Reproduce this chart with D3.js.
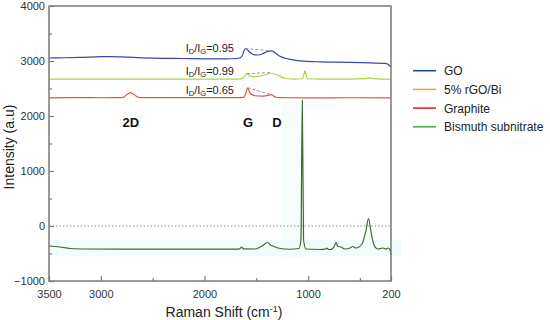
<!DOCTYPE html>
<html>
<head>
<meta charset="utf-8">
<script src="https://cdn.jsdelivr.net/npm/d3@7"></script>
<style>
  body { margin: 0; background: #fff; }
  svg { display: block; font-family: "Liberation Sans", Arial, sans-serif; }
</style>
</head>
<body>
<svg id="chart" width="550" height="320"></svg>
<script>
// legend
var seriesNames = ["GO", "5% rGO/Bi", "Graphite", "Bismuth subnitrate"];
var legendColors = ["#1f4e8c", "#f5a623", "#e8261f", "#4cae4f"];
// colours of the plotted traces (they differ from the legend in the source)
var lineColors = ["#3a46a6", "#a9d640", "#e8503c", "#3d6b2c"];

// [Raman shift, intensity]
var goData = [[3500,3055],[3400,3058],[3200,3065],[3000,3078],[2900,3080],[2750,3070],[2600,3058],[2400,3048],
  [2200,3045],[2000,3040],[1800,3040],[1680,3045],[1640,3080],[1620,3180],[1604,3227],[1585,3200],[1550,3140],
  [1510,3110],[1483,3109],[1440,3130],[1400,3165],[1358,3185],[1320,3150],[1271,3085],[1220,3050],[1175,3030],
  [1078,3004],[885,2985],[596,2976],[400,2965],[258,2958],[230,2940],[200,2886]];
var rgoData = [[3500,2670],[3000,2672],[2500,2670],[2000,2672],[1700,2670],[1640,2680],[1618,2705],[1590,2770],
  [1560,2722],[1520,2715],[1483,2722],[1420,2745],[1358,2777],[1290,2740],[1223,2686],[1126,2670],[1060,2677],
  [1045,2720],[1030,2822],[1015,2720],[1001,2677],[885,2670],[600,2672],[450,2680],[403,2695],[370,2680],
  [258,2670],[220,2668],[200,2650]];
var graphiteData = [[3500,2330],[3200,2335],[3000,2332],[2850,2335],[2786,2340],[2750,2385],[2712,2424],
  [2680,2390],[2650,2350],[2622,2335],[2400,2333],[2000,2333],[1700,2333],[1620,2340],[1600,2420],[1583,2514],
  [1565,2440],[1551,2400],[1512,2368],[1440,2360],[1390,2375],[1358,2387],[1310,2341],[1250,2333],[1000,2330],
  [600,2332],[200,2330]];
var bismuthData = [[3500,-364],[3394,-382],[3297,-409],[3124,-418],[2800,-422],[2400,-420],[2000,-420],
  [1700,-420],[1660,-415],[1641,-382],[1625,-415],[1512,-418],[1445,-364],[1390,-300],[1358,-354],[1339,-364],
  [1290,-400],[1175,-423],[1088,-409],[1069,-254],[1056,2287],[1044,-254],[1020,-418],[885,-427],[835,-420],
  [820,-400],[805,-425],[789,-427],[750,-382],[731,-300],[712,-373],[683,-382],[644,-418],[600,-405],[570,-373],
  [538,-400],[480,-327],[441,-73],[417,136],[393,-109],[364,-345],[326,-418],[278,-400],[249,-418],[229,-400],
  [210,-430],[200,-527]];
var spectra = [goData, rgoData, graphiteData, bismuthData];

// I_D/I_G ratios and the dashed G-D guide lines
var ratioLabels = ["0.95", "0.99", "0.65"];
var ratioGuides = [[[1604,3227],[1358,3185]], [[1590,2770],[1358,2790]], [[1583,2514],[1358,2387]]];
var peakLabels = [["2D",2710],["G",1580],["D",1300]];

var xTicks = [3500, 3000, 2000, 1000, 200];
var xMinor = [2500, 1500, 500];
var yTicks = [4000, 3000, 2000, 1000, 0, -1000];
var yMinor = [3500, 2500, 1500, 500, -500];

var svg = d3.select("#chart");
var pLeft = 49, pRight = 391, pTop = 6, pBottom = 281;

var x = d3.scaleLinear().domain([3500, 200]).range([pLeft, pRight]);
var y = d3.scaleLinear().domain([-1000, 4000]).range([pBottom, pTop]);

// faint cyan highlight bands
svg.append("rect").attr("x", x(1260)).attr("y", y(2250)).attr("width", x(1030) - x(1260))
  .attr("height", y(-560) - y(2250)).attr("fill", "#f6fdfd");
svg.append("rect").attr("x", pLeft).attr("y", y(-250)).attr("width", pRight - pLeft + 10)
  .attr("height", y(-550) - y(-250)).attr("fill", "#f1fcfc");

// zero line
svg.append("line").attr("x1", pLeft).attr("x2", pRight).attr("y1", y(0)).attr("y2", y(0))
  .attr("stroke", "#8a8a8a").attr("stroke-dasharray", "1.5,2");

var line = d3.line().x(d => x(d[0])).y(d => y(d[1])).curve(d3.curveMonotoneX);

svg.append("g").selectAll("path")
  .data(spectra)
  .join("path")
    .attr("d", line)
    .attr("fill", "none")
    .attr("stroke", (d, i) => lineColors[i])
    .attr("stroke-width", 1.2);

svg.append("g").selectAll("line")
  .data(ratioGuides)
  .join("line")
    .attr("x1", d => x(d[0][0])).attr("y1", d => y(d[0][1]))
    .attr("x2", d => x(d[1][0])).attr("y2", d => y(d[1][1]))
    .attr("stroke", "#999").attr("stroke-width", 1).attr("stroke-dasharray", "3,2");

// ratio text, right-aligned just left of the G peak
var ratioY = [47.5, 70.5, 90];
ratioLabels.forEach(function(r, i) {
  var t = svg.append("text").attr("x", 234).attr("y", ratioY[i] + 4)
    .attr("text-anchor", "end").attr("font-size", 11).attr("fill", "#222");
  t.append("tspan").text("I");
  t.append("tspan").attr("font-size", 7.5).attr("dy", 2).text("D");
  t.append("tspan").attr("dy", -2).text("/I");
  t.append("tspan").attr("font-size", 7.5).attr("dy", 2).text("G");
  t.append("tspan").attr("dy", -2).text("=" + r);
});

svg.append("g").selectAll("text")
  .data(peakLabels)
  .join("text")
    .attr("x", d => x(d[1])).attr("y", 126.5)
    .attr("text-anchor", "middle").attr("font-size", 13).attr("font-weight", "bold")
    .attr("fill", "#111").text(d => d[0]);

// frame
var frame = "#7a7a7a";
svg.append("rect").attr("x", pLeft).attr("y", pTop).attr("width", pRight - pLeft).attr("height", pBottom - pTop)
  .attr("fill", "none").attr("stroke", frame).attr("stroke-width", 1.5);

// axes, ticks inward
var xAxis = svg.append("g").attr("transform", `translate(0,${pBottom})`)
  .call(d3.axisBottom(x).tickValues(xTicks).tickSize(-5).tickPadding(9).tickFormat(d3.format("d")));
svg.append("g").attr("transform", `translate(0,${pBottom})`)
  .call(d3.axisBottom(x).tickValues(xMinor).tickSize(-3).tickFormat(""));
var yAxis = svg.append("g").attr("transform", `translate(${pLeft},0)`)
  .call(d3.axisLeft(y).tickValues(yTicks).tickSize(-5).tickPadding(4).tickFormat(d3.format("d")));
svg.append("g").attr("transform", `translate(${pLeft},0)`)
  .call(d3.axisLeft(y).tickValues(yMinor).tickSize(-3).tickFormat(""));
svg.selectAll(".domain").remove();
svg.selectAll(".tick line").attr("stroke", frame).attr("stroke-width", 1.2);
svg.selectAll(".tick text").attr("font-size", 11).attr("fill", "#333")
  .attr("font-family", "Liberation Sans, Arial, sans-serif");
xAxis.selectAll(".tick text").attr("dy", "0.71em");

var xTitle = svg.append("text").attr("x", 224).attr("y", 317).attr("text-anchor", "middle")
  .attr("font-size", 14).attr("fill", "#222");
xTitle.append("tspan").text("Raman Shift (cm");
xTitle.append("tspan").attr("font-size", 9).attr("dy", -5).text("-1");
xTitle.append("tspan").attr("dy", 5).text(")");

svg.append("text").attr("transform", "translate(14,147) rotate(-90)").attr("text-anchor", "middle")
  .attr("font-size", 14).attr("fill", "#222").text("Intensity (a.u)");

// legend
var legend = svg.append("g").selectAll("g")
  .data(seriesNames)
  .join("g")
    .attr("transform", (d, i) => `translate(413,${70.7 + i * 18.7})`);
legend.append("line").attr("x1", 0).attr("x2", 23)
  .attr("stroke", (d, i) => legendColors[i]).attr("stroke-width", 1.6);
legend.append("text").attr("x", 31).attr("y", 4.5).attr("font-size", 12).attr("fill", "#222").text(d => d);
</script>
</body>
</html>
